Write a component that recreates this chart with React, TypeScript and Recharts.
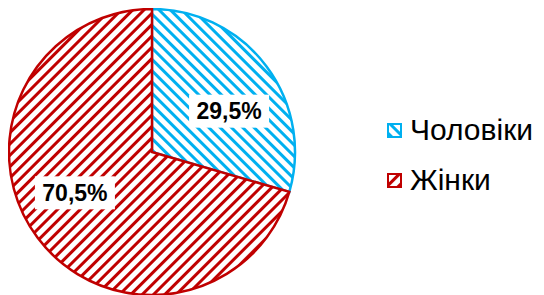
import React from 'react'
import { PieChart, Pie, Cell, Legend } from 'recharts'

const categories = ['Чоловіки', 'Жінки']
const shares = [29.5, 70.5]
const colors = ['#00B0F0', '#C00000']
const patternIds = ['hatchBlue', 'hatchRed']
const hatchAngles = [-45, 45]

const data = categories.map((name, i) => ({ name, value: shares[i] }))

const fmt = (v: number) => v.toFixed(1).replace('.', ',') + '%'

// Excel puts the labels a bit before the slice middle
function renderLabel(props: any) {
    const { cx, cy, midAngle, outerRadius, value } = props
    const RAD = Math.PI / 180
    const r = outerRadius * 0.61
    const a = (midAngle - 9) * RAD
    const x = cx + r * Math.cos(-a)
    const y = cy + r * Math.sin(-a)
    const w = 80
    const h = 33
    return (
        <g>
            <rect x={x - w / 2} y={y - h / 2} width={w} height={h} fill="#ffffff" />
            <text
                x={x}
                y={y}
                textAnchor="middle"
                dominantBaseline="central"
                fontFamily="'Liberation Sans', Arial, sans-serif"
                fontWeight="bold"
                fontSize={23}
                fill="#000000"
            >
                {fmt(value)}
            </text>
        </g>
    )
}

function LegendContent() {
    return (
        <div style={{ fontFamily: "'Liberation Sans', Arial, sans-serif", fontSize: 30, color: '#000' }}>
            {categories.map((c, i) => (
                <div key={c} style={{ display: 'flex', alignItems: 'center', height: 50 }}>
                    <svg width={15} height={15} style={{ marginRight: 8 }}>
                        <rect x={1} y={1} width={13} height={13} fill={`url(#${patternIds[i]})`} stroke={colors[i]} strokeWidth={2} />
                    </svg>
                    <span>{c}</span>
                </div>
            ))}
        </div>
    )
}

export default function App() {
    return (
        <PieChart width={536} height={287} margin={{ top: 0, right: 0, bottom: 0, left: 0 }}>
            <defs>
                {patternIds.map((id, i) => (
                    <pattern
                        key={id}
                        id={id}
                        patternUnits="userSpaceOnUse"
                        width={8}
                        height={8}
                        patternTransform={`rotate(${hatchAngles[i]})`}
                    >
                        <rect x={0} y={0} width={8} height={8} fill="#ffffff" />
                        <rect x={0} y={0} width={3} height={8} fill={colors[i]} />
                    </pattern>
                ))}
            </defs>
            <Pie
                data={data}
                dataKey="value"
                nameKey="name"
                cx={144}
                cy={144}
                outerRadius={143}
                startAngle={90}
                endAngle={-270}
                isAnimationActive={false}
                labelLine={false}
                label={renderLabel}
            >
                {data.map((d, i) => (
                    <Cell key={d.name} fill={`url(#${patternIds[i]})`} stroke={colors[i]} strokeWidth={2.5} />
                ))}
            </Pie>
            <Legend
                layout="vertical"
                content={<LegendContent />}
                wrapperStyle={{ left: 379, top: 97, width: 165 }}
            />
        </PieChart>
    )
}
